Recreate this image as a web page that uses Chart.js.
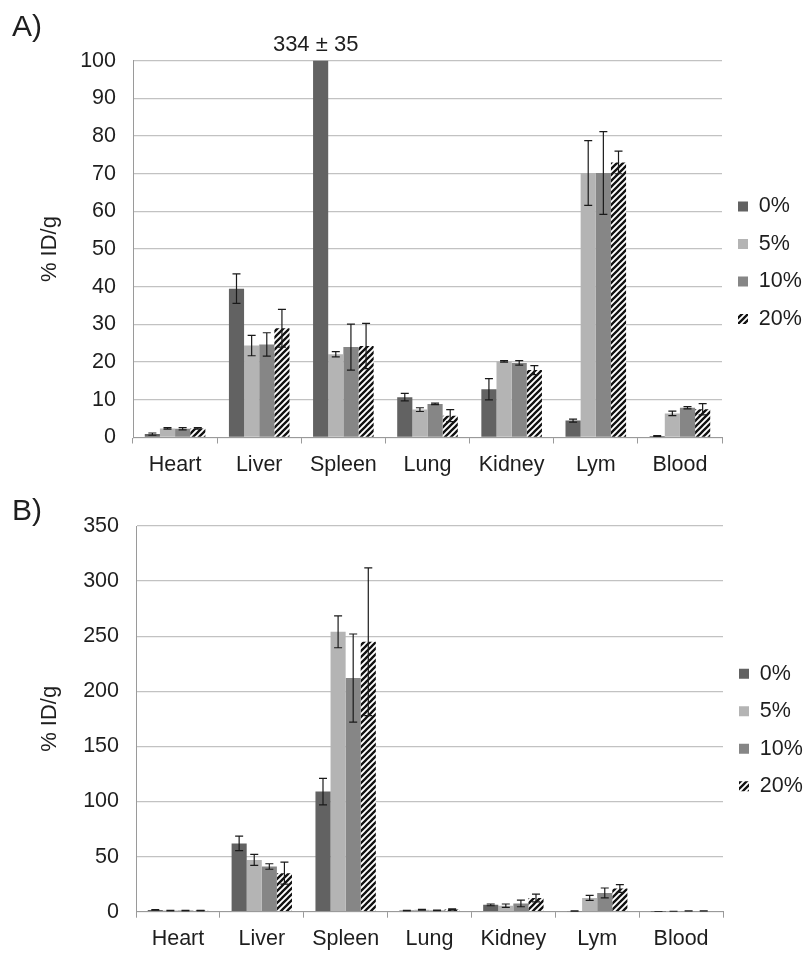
<!DOCTYPE html>
<html>
<head>
<meta charset="utf-8">
<script src="https://cdn.jsdelivr.net/npm/chart.js@4.4.1/dist/chart.umd.min.js"></script>
<style>
  body { margin: 0; background: #fff; }
  .panel { position: absolute; left: 0; width: 804px; }
</style>
</head>
<body>
<div class="panel" style="top:0;height:490px"><canvas id="chartA" width="804" height="490"></canvas></div>
<div class="panel" style="top:490px;height:464px"><canvas id="chartB" width="804" height="464"></canvas></div>
<script>
const categories = ['Heart', 'Liver', 'Spleen', 'Lung', 'Kidney', 'Lym', 'Blood'];
const seriesLabels = ['0%', '5%', '10%', '20%'];

// panel A (% ID/g), spleen 0% is off the scale
const a0 = [0.9, 39.5, 334, 10.7, 12.8, 4.5, 0.4];
const a5 = [2.4, 24.4, 22.1, 7.4, 20.2, 70.2, 6.4];
const a10 = [2.3, 24.7, 24.0, 8.9, 19.8, 70.2, 7.9];
const a20 = [2.4, 29.0, 24.3, 5.8, 17.9, 73.0, 7.5];
const a0err = [0.3, 3.9, 35, 1.0, 2.8, 0.4, 0.1];
const a5err = [0.2, 2.7, 0.7, 0.5, 0.2, 8.6, 0.6];
const a10err = [0.3, 3.1, 6.1, 0.2, 0.6, 11.0, 0.3];
const a20err = [0.2, 5.0, 6.0, 1.6, 1.2, 3.0, 1.5];

// panel B
const b0 = [1.6, 62, 109, 1.0, 6.2, 0.5, 0.05];
const b5 = [1.0, 47, 254, 1.8, 5.5, 12.5, 0.2];
const b10 = [1.0, 41, 212, 1.2, 7.5, 17, 0.6];
const b20 = [1.0, 35, 245, 2.0, 12.5, 21, 0.6];
const b0err = [0.3, 6.5, 12, 0.3, 0.8, 0.2, 0.05];
const b5err = [0.2, 5, 14.5, 0.4, 1.5, 2.3, 0.1];
const b10err = [0.2, 2.5, 40, 0.3, 3, 4.5, 0.1];
const b20err = [0.2, 10, 67, 0.5, 3.5, 3.5, 0.2];

const yTicksA = { max: 100, step: 10 };
const yTicksB = { max: 350, step: 50 };
const spleenNote = '334 \u00b1 35';

const seriesColors = ['#626262', '#b4b4b4', '#868686'];
const textColor = '#1e1e1e';

Chart.defaults.font.family = "'Liberation Sans', Arial, sans-serif";
Chart.defaults.color = textColor;

function makeHatch(ctx) {
  const c = document.createElement('canvas');
  c.width = 6;
  c.height = 6;
  const g = c.getContext('2d');
  g.fillStyle = '#fff';
  g.fillRect(0, 0, 6, 6);
  g.strokeStyle = '#111';
  g.lineWidth = 2.3;
  g.beginPath();
  g.moveTo(-1, 7); g.lineTo(7, -1);
  g.moveTo(-1, 1); g.lineTo(1, -1);
  g.moveTo(5, 7); g.lineTo(7, 5);
  g.stroke();
  return ctx.createPattern(c, 'repeat');
}

// error bars from each dataset's errors array
const errorBars = {
  id: 'errorBars',
  afterDatasetsDraw(chart) {
    const { ctx, chartArea, scales: { y } } = chart;
    ctx.save();
    ctx.beginPath();
    ctx.rect(chartArea.left, chartArea.top - 1, chartArea.width, chartArea.height + 1);
    ctx.clip();
    ctx.strokeStyle = '#1a1a1a';
    ctx.lineWidth = 1.2;
    chart.data.datasets.forEach((ds, i) => {
      const meta = chart.getDatasetMeta(i);
      meta.data.forEach((bar, j) => {
        const v = ds.data[j];
        const e = ds.errors[j];
        if (v > y.max) return;
        const top = y.getPixelForValue(v + e);
        const bot = y.getPixelForValue(Math.max(v - e, 0));
        ctx.beginPath();
        ctx.moveTo(bar.x, top); ctx.lineTo(bar.x, bot);
        ctx.moveTo(bar.x - 4, top); ctx.lineTo(bar.x + 4, top);
        ctx.moveTo(bar.x - 4, bot); ctx.lineTo(bar.x + 4, bot);
        ctx.stroke();
      });
    });
    ctx.restore();
  }
};

// panel letter and the off-scale note
const panelText = {
  id: 'panelText',
  afterDraw(chart, args, opts) {
    const { ctx, chartArea } = chart;
    ctx.save();
    ctx.fillStyle = textColor;
    ctx.textBaseline = 'alphabetic';
    ctx.textAlign = 'left';
    ctx.font = "30px 'Liberation Sans', Arial, sans-serif";
    ctx.fillText(opts.letter, 12, opts.letterY);
    if (opts.note) {
      const bar = chart.getDatasetMeta(0).data[2];
      ctx.textAlign = 'center';
      ctx.font = "22px 'Liberation Sans', Arial, sans-serif";
      ctx.fillText(opts.note, bar.x - 5, chartArea.top - 10);
    }
    ctx.restore();
  }
};

function buildDatasets(values, errors, hatch) {
  return seriesLabels.map((label, i) => ({
    label,
    data: values[i],
    errors: errors[i],
    backgroundColor: i === 3 ? hatch : seriesColors[i],
    borderWidth: 0,
    categoryPercentage: 0.72,
    barPercentage: 1,
    clip: 0,
  }));
}

function buildOptions(cfg) {
  return {
    responsive: false,
    animation: false,
    layout: { padding: { top: cfg.padTop, bottom: 0, left: 0, right: 0 } },
    plugins: {
      tooltip: { enabled: false },
      legend: {
        position: 'right',
        fullSize: false,
        maxWidth: cfg.legendWidth,
        title: { display: true, text: '', font: { size: 1, lineHeight: 1 }, padding: { top: cfg.legendShift, bottom: 0 } },
        labels: { boxWidth: 10, boxHeight: 10, padding: 16, color: textColor, font: { size: 21.5 } },
      },
      panelText: { letter: cfg.letter, letterY: cfg.letterY, note: cfg.note },
    },
    scales: {
      x: {
        afterFit(scale) { scale.height = cfg.xAxisHeight; },
        grid: { display: true, drawOnChartArea: false, drawTicks: true, tickLength: 6, color: '#9a9a9a', offset: true },
        border: { display: true, color: '#9a9a9a', width: 1 },
        ticks: { padding: 8.5, font: { size: 21.5 }, color: textColor },
      },
      y: {
        min: 0,
        max: cfg.yMax,
        afterFit(scale) { scale.width = cfg.axisWidth; },
        grid: { drawTicks: false, color: '#c2c2c2', lineWidth: 1.3 },
        border: { display: true, color: '#9a9a9a', width: 1 },
        ticks: { stepSize: cfg.yStep, padding: 17, font: { size: 21.5 }, color: textColor },
        title: { display: true, text: '% ID/g', font: { size: 22 }, color: textColor, padding: { top: 36.8, bottom: 0 } },
      },
    },
  };
}

const ctxA = document.getElementById('chartA').getContext('2d');
const chartA = new Chart(ctxA, {
  type: 'bar',
  data: {
    labels: categories,
    datasets: buildDatasets([a0, a5, a10, a20], [a0err, a5err, a10err, a20err], makeHatch(ctxA)),
  },
  options: buildOptions({
    yMax: yTicksA.max, yStep: yTicksA.step,
    padTop: 60.7, xAxisHeight: 52.5, axisWidth: 133, legendWidth: 82, legendShift: 26.3,
    letter: 'A)', letterY: 36, note: spleenNote,
  }),
  plugins: [errorBars, panelText],
});

const ctxB = document.getElementById('chartB').getContext('2d');
const chartB = new Chart(ctxB, {
  type: 'bar',
  data: {
    labels: categories,
    datasets: buildDatasets([b0, b5, b10, b20], [b0err, b5err, b10err, b20err], makeHatch(ctxB)),
  },
  options: buildOptions({
    yMax: yTicksB.max, yStep: yTicksB.step,
    padTop: 36, xAxisHeight: 42.3, axisWidth: 136, legendWidth: 81, legendShift: 21.3,
    letter: 'B)', letterY: 30, note: null,
  }),
  plugins: [errorBars, panelText],
});
</script>
</body>
</html>
